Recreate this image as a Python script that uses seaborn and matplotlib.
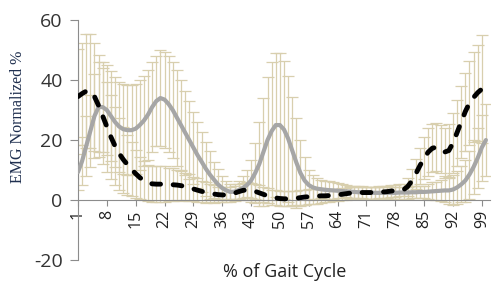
import numpy as np
import pandas as pd
import seaborn as sns
import matplotlib.pyplot as plt
from matplotlib.ticker import MultipleLocator, FixedLocator

# % of gait cycle (categorias 1..100)
ciclo = list(range(1, 101))

# Serie gris (linea continua) - media
media_gris = [
    9.3, 13, 18, 23, 28, 31, 31, 30, 28, 26,
    24.5, 23.6, 23.3, 23.3, 23.8, 25, 26.5, 28.5, 31, 33,
    34, 33.5, 32, 30, 27.5, 25, 22.5, 20, 17.5, 15,
    12.8, 10.5, 8.5, 6.8, 5.2, 4, 3.2, 2.7, 2.8, 3.3,
    4, 5, 6.5, 9, 12, 16, 20, 23, 25, 25,
    23.5, 20.5, 16.5, 12.5, 9, 6.5, 5, 4.2, 3.8, 3.6,
    3.4, 3.3, 3.2, 3.1, 3, 2.9, 2.8, 2.7, 2.6, 2.6,
    2.5, 2.5, 2.4, 2.4, 2.4, 2.4, 2.4, 2.4, 2.5, 2.5,
    2.5, 2.6, 2.6, 2.7, 2.7, 2.8, 2.9, 3, 3.1, 3.2,
    3.2, 3.5, 4.2, 5.2, 6.5, 8.5, 11, 14, 17.5, 20,
]
de_gris = [
    6, 8, 10, 12, 14, 15, 15, 15, 15, 15,
    15, 15, 15, 15, 15, 15, 15, 15, 15, 15,
    16, 16, 16, 16, 16, 15, 14, 13, 12, 11,
    10, 9, 8, 6, 5, 4, 3, 2.5, 2.5, 3,
    4, 5, 7, 10, 14, 18, 21, 23, 24, 24,
    23, 21, 18, 15, 11, 8, 5, 4, 3.5, 3,
    3, 3, 2.8, 2.5, 2.3, 2, 2, 2, 2, 2,
    2, 2, 2, 2, 2, 2, 2, 2, 2, 2,
    2, 2, 2, 2, 2, 2.5, 3, 3, 3.5, 4,
    4.5, 5, 5.5, 6, 7, 8, 9, 10, 11, 12,
]

# Serie negra (linea discontinua) - media
media_negra = [
    34.5, 35.5, 36.3, 36.3, 34.5, 31.5, 28, 24.5, 21, 18,
    15.5, 13.5, 11.8, 10.2, 8.8, 7.5, 6.5, 5.8, 5.4, 5.3,
    5.3, 5.3, 5.2, 5.1, 5, 4.8, 4.5, 4.1, 3.7, 3.3,
    2.9, 2.6, 2.3, 2, 1.8, 1.7, 1.7, 1.9, 2.3, 2.8,
    3.2, 3.4, 3.3, 2.9, 2.4, 1.9, 1.4, 1, 0.7, 0.5,
    0.4, 0.4, 0.5, 0.6, 0.8, 1, 1.1, 1.2, 1.3, 1.4,
    1.4, 1.5, 1.6, 1.7, 1.9, 2.1, 2.3, 2.4, 2.5, 2.5,
    2.5, 2.5, 2.5, 2.6, 2.7, 2.8, 3, 3.1, 3.2, 3.4,
    4.5, 6.3, 8.8, 11.5, 14, 16, 17.3, 17.6, 17, 16,
    16.5, 19, 22.5, 26, 29.5, 32.3, 34.2, 35.8, 37, np.nan,
]
de_negra = [
    16, 17, 19, 19, 18, 17, 16, 15, 14, 13,
    12, 11, 10, 9, 8, 7, 6.5, 6, 6, 6,
    6, 6, 5.5, 5.5, 5, 5, 4.5, 4.5, 4, 4,
    3.5, 3.5, 3, 3, 2.5, 2.5, 2.5, 2.5, 2.5, 2.5,
    2.5, 2.5, 2.5, 2.5, 2.5, 2.5, 2.5, 2.5, 2.5, 2.5,
    2.5, 2.5, 2.5, 2.5, 2.5, 2.5, 2.5, 2.5, 2.5, 2.5,
    2, 2, 2, 2, 2, 2, 2, 2, 2, 2,
    2, 2, 2, 2, 2, 2, 2, 2, 2, 2,
    3, 4, 5, 6, 7, 8, 8, 8, 8, 8,
    9, 10, 11, 12, 13, 14, 15, 16, 18, np.nan,
]

etiquetas_x = list(range(1, 101, 7))
ticks_y = [-20, 0, 20, 40, 60]

df = pd.DataFrame({"ciclo": ciclo, "gris": media_gris, "de_gris": de_gris,
                   "negra": media_negra, "de_negra": de_negra})

sns.set_style("white")
plt.rcParams["font.family"] = ["Open Sans", "DejaVu Sans"]
plt.rcParams["axes.unicode_minus"] = False

fig = plt.figure(figsize=(4.92, 2.87), dpi=100)
ax = fig.add_axes([0.1585, 0.094, 0.8375, 0.836])

#Barras de error (tono arena claro)
color_err = "#d8cfae"
ax.errorbar(df["ciclo"], df["gris"], yerr=df["de_gris"], fmt="none",
            ecolor=color_err, elinewidth=0.9, capsize=4, capthick=0.9, zorder=1)
ax.errorbar(df["ciclo"], df["negra"], yerr=df["de_negra"], fmt="none",
            ecolor=color_err, elinewidth=0.9, capsize=4, capthick=0.9, zorder=1)

sns.lineplot(data=df, x="ciclo", y="gris", ax=ax, color="#a6a6a6", lw=3.0,
             solid_capstyle="round", zorder=3)
sns.lineplot(data=df, x="ciclo", y="negra", ax=ax, color="black", lw=3.5,
             linestyle=(0, (1.8, 2.6)), dash_capstyle="round", zorder=4)

ax.set_xlim(1, 101)
ax.set_ylim(-20, 60)

#Ejes estilo Excel
for s in ["top", "right"]:
    ax.spines[s].set_visible(False)
ax.spines["bottom"].set_position(("data", 0))
ax.spines["bottom"].set_color("#8c8c8c")
ax.spines["left"].set_color("#8c8c8c")

ax.xaxis.set_major_locator(FixedLocator(etiquetas_x))
ax.xaxis.set_minor_locator(MultipleLocator(1))
ax.set_xticklabels([str(v) for v in etiquetas_x], rotation=90)
ax.tick_params(axis="x", which="both", direction="out", length=4, width=0.8,
               color="#8c8c8c", labelsize=11.5, labelcolor="#222222", pad=3)
ax.set_yticks(ticks_y)
ax.tick_params(axis="y", direction="out", length=6, width=0.8, color="#8c8c8c",
               labelsize=14, labelcolor="#333333", pad=5)
ax.tick_params(axis="both", bottom=True, left=True)

ax.set_xlabel("")
ax.set_ylabel("")
fig.text(0.578, 0.052, "% of Gait Cycle", ha="center", va="center",
         fontsize=13, color="#222222")
fig.text(0.037, 0.594, "EMG Normalized %", ha="center", va="center", rotation=90,
         fontsize=11.5, color="#1f2f4f", family=["Liberation Serif", "DejaVu Serif"])

fig.savefig("out.png", dpi=100)
